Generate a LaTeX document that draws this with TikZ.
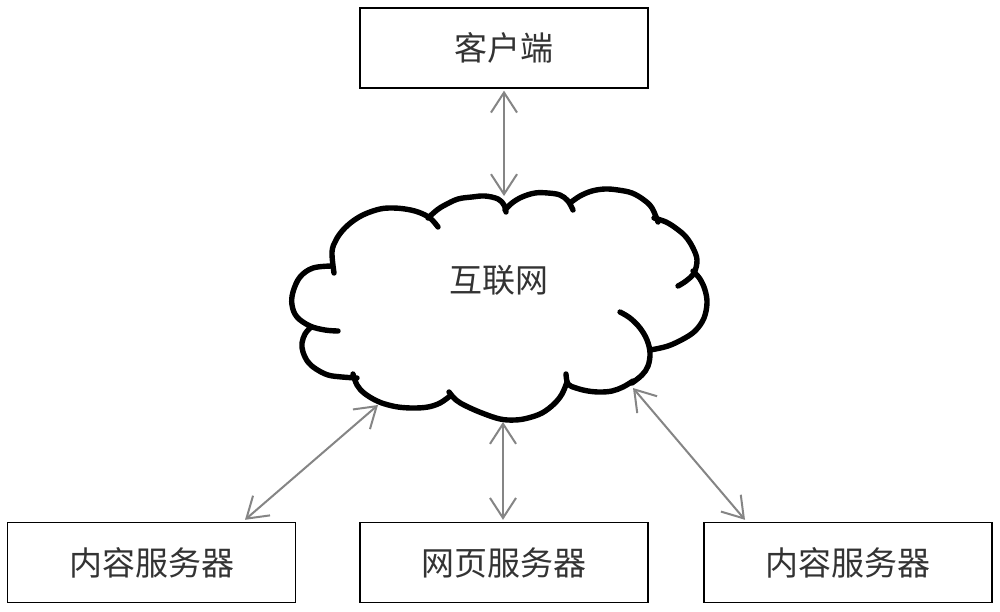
\documentclass[tikz,border=0pt]{standalone}
\usepackage{fontspec}
\newfontfamily\cjk{Noto Sans CJK SC}
\usetikzlibrary{arrows.meta}
\definecolor{arrowgray}{HTML}{858585}
\definecolor{textdark}{HTML}{333333}
\tikzset{
  box/.style={draw=black, line width=1.4pt, minimum width=288pt, minimum height=80pt,
              inner sep=0pt, font=\cjk\fontsize{33pt}{38pt}\selectfont, text=textdark},
  cloudline/.style={draw=black, line width=5.4pt, line cap=round, line join=round},
  link/.style={draw=arrowgray, line width=2pt,
               {Straight Barb[length=20pt,width=26pt]}-{Straight Barb[length=20pt,width=26pt]}},
  label/.style={font=\cjk\fontsize{33pt}{38pt}\selectfont, text=textdark, inner sep=0pt}
}
\begin{document}
\begin{tikzpicture}[x=1pt, y=-1pt]
\useasboundingbox[fill=white] (0,0) rectangle (1000,611);

% boxes
\node[box] (client) at (504,48) {客户端};
\node[box] (lsrv) at (151.5,562.5) {内容服务器};
\node[box] (wsrv) at (504,562.5) {网页服务器};
\node[box] (rsrv) at (848,562.5) {内容服务器};

% cloud
\draw[cloudline] plot[smooth, tension=0.6] coordinates {(332,266) (313,268) (300,277) (293,292) (292,305) (297,317) (310,326) (325,330) (338,331)};
\draw[cloudline] plot[smooth, tension=0.6] coordinates {(334,273) (332,252) (336,240) (343,230) (353,221) (365,214) (380,209) (392,208) (405,209) (418,212) (430,218) (438,227)};
\draw[cloudline] plot[smooth, tension=0.6] coordinates {(428,218) (437,210) (445,205) (458,199) (472,197) (485,196) (498,199) (504,205) (506,212)};
\draw[cloudline] plot[smooth, tension=0.6] coordinates {(505,210) (512,203) (522,197) (535,193) (548,193) (560,195) (568,201) (573,210)};
\draw[cloudline] plot[smooth, tension=0.6] coordinates {(570,203) (580,196) (592,191) (605,189) (618,190) (632,193) (644,200) (652,208) (658,222)};
\draw[cloudline] plot[smooth, tension=0.6] coordinates {(654,218) (666,222) (677,229) (686,237) (693,248) (697,260) (694,273) (686,281) (678,286)};
\draw[cloudline] plot[smooth, tension=0.6] coordinates {(693,271) (700,279) (705,290) (707,303) (704,318) (696,330) (685,338) (668,346) (650,350)};
\draw[cloudline] plot[smooth, tension=0.6] coordinates {(620,312) (630,318) (640,328) (647,340) (650,353) (648,366) (642,375) (632,383)};
\draw[cloudline] plot[smooth, tension=0.6] coordinates {(633,381) (623,387) (612,391) (600,392) (588,391) (576,388) (568,384) (566,374)};
\draw[cloudline] plot[smooth, tension=0.6] coordinates {(567,382) (562,394) (554,404) (542,413) (528,418) (515,420) (500,419) (482,413) (466,406) (456,400) (449,392)};
\draw[cloudline] plot[smooth, tension=0.6] coordinates {(450,396) (440,403) (428,407) (413,408) (398,407) (385,404) (375,400) (364,393) (357,385) (353,374)};
\draw[cloudline] plot[smooth, tension=0.6] coordinates {(357,378) (342,377) (328,375) (316,369) (308,362) (303,352) (302,343) (305,334) (310,328)};

\node[label] (net) at (499,280) {互联网};

% cloud attachment points
\coordinate (ctop) at (504,196);
\coordinate (cbl) at (378,405);
\coordinate (cbot) at (503,422);
\coordinate (cbr) at (633,388);

% connectors
\draw[link] ([yshift=-2pt]client.south) -- (ctop);
\draw[link] (cbl) -- ([xshift=93.5pt,yshift=2pt]lsrv.north);
\draw[link] (cbot) -- ([xshift=-1pt,yshift=2pt]wsrv.north);
\draw[link] (cbr) -- ([xshift=-103pt,yshift=2pt]rsrv.north);
\end{tikzpicture}
\end{document}
